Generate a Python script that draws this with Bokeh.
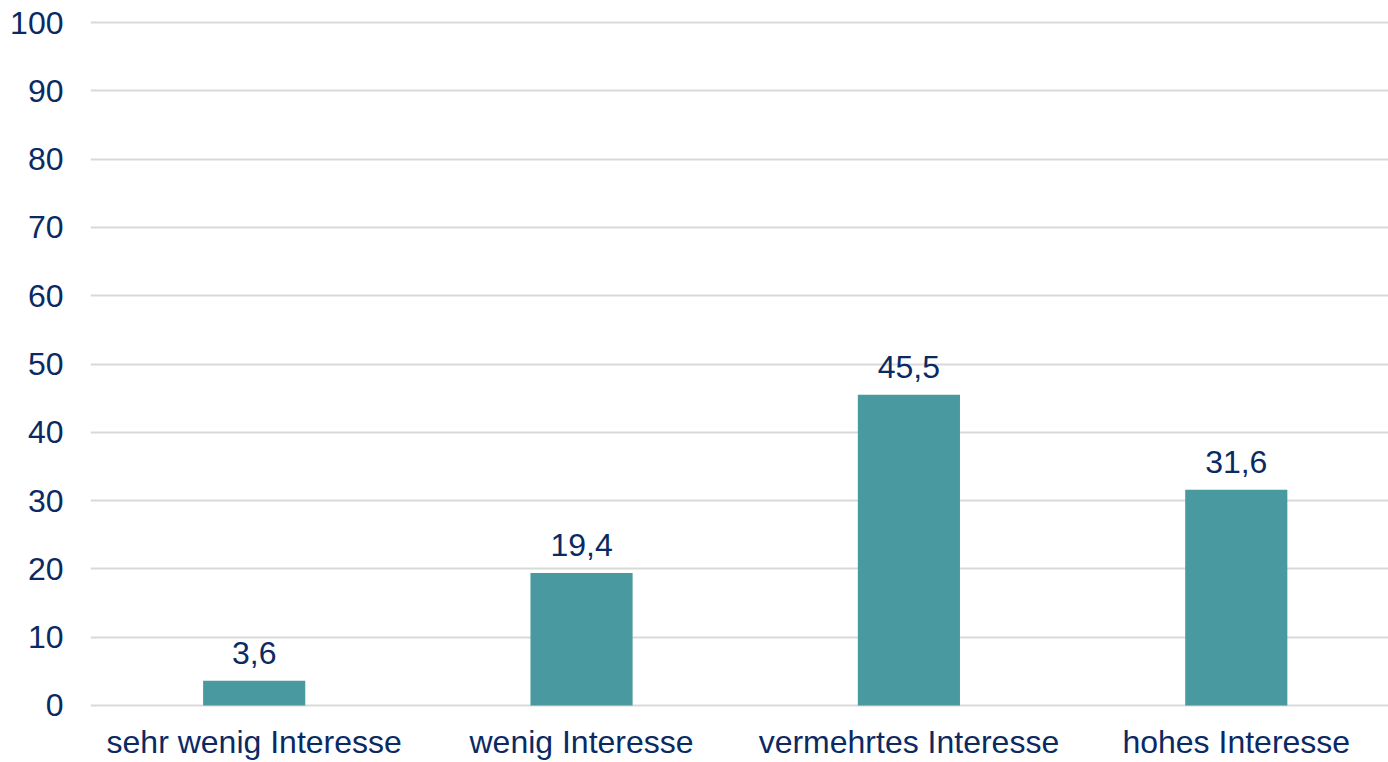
from bokeh.plotting import figure
from bokeh.models import Range1d, FixedTicker, ColumnDataSource
from bokeh.core.properties import value
from bokeh.embed import file_html
from bokeh.resources import INLINE

categories = ["sehr wenig Interesse", "wenig Interesse", "vermehrtes Interesse", "hohes Interesse"]
shares = [3.6, 19.4, 45.5, 31.6]
y_ticks = [0, 10, 20, 30, 40, 50, 60, 70, 80, 90, 100]

FONT = "Liberation Sans"
TEXT = "#0B2A63"
BAR = "#4899A0"
GRID = "#D9D9D9"
FS = "32px"

xs = list(range(len(categories)))
labels = [f"{v:.1f}".replace(".", ",") for v in shares]
src = ColumnDataSource(dict(x=xs, top=shares, label=labels))

# small margin around 0..100 so the edge grid lines stay visible
p = figure(width=1388, height=762, output_backend="svg", toolbar_location=None,
           x_range=Range1d(-0.5, 3.465), y_range=Range1d(-0.3, 100.3),
           min_border_left=90, min_border_right=0, min_border_top=20, min_border_bottom=55)
p.outline_line_color = None
p.background_fill_color = "white"
p.border_fill_color = "white"

p.vbar(x="x", top="top", width=0.312, bottom=0, source=src, color=BAR, line_color=None)
p.text(x="x", y="top", text="label", source=src, text_align="center", text_baseline="alphabetic",
       y_offset=-28, text_font=value(FONT), text_font_size=FS, text_color=TEXT)

p.yaxis.ticker = FixedTicker(ticks=y_ticks)
p.xaxis.ticker = FixedTicker(ticks=xs)
p.xaxis.major_label_overrides = {i: c for i, c in enumerate(categories)}
for ax in (p.xaxis, p.yaxis):
    ax.axis_line_color = None
    ax.major_tick_line_color = None
    ax.minor_tick_line_color = None
    ax.major_tick_out = 0
    ax.major_tick_in = 0
    ax.major_label_text_font = FONT
    ax.major_label_text_font_size = FS
    ax.major_label_text_color = TEXT
p.yaxis.major_label_standoff = 27
p.xaxis.major_label_standoff = 16

p.xgrid.grid_line_color = None
p.ygrid.grid_line_color = GRID
p.ygrid.grid_line_width = 2
p.ygrid.level = "underlay"

open("out.html", "w").write(file_html(p, INLINE))
